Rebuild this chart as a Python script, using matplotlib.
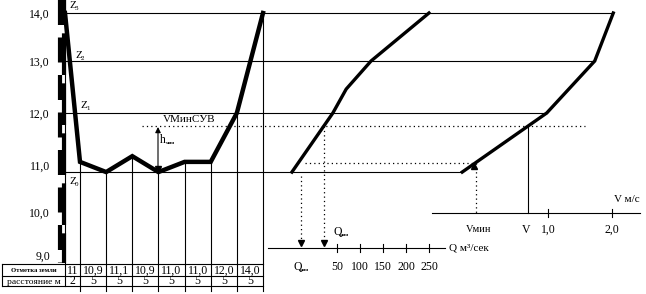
import numpy as np
import matplotlib.pyplot as plt

plt.rcParams['font.family'] = ['Liberation Serif', 'DejaVu Serif']

# elevation scale (m)
levels = [9.0, 10.0, 11.0, 12.0, 13.0, 14.0]
level_labels = ["9,0", "10,0", "11,0", "12,0", "13,0", "14,0"]

# cross-section: distance from the staff (m) and ground elevation as drawn
dist = [0, 2, 7, 12, 17, 22, 27, 32, 37]
ground = [14.0, 11.06, 10.85, 11.17, 10.85, 11.06, 11.06, 12.0, 14.0]
ground_labels = ["11", "10,9", "11,1", "10,9", "11,0", "11,0", "12,0", "14,0"]
spacing_labels = ["2", "5", "5", "5", "5", "5", "5", "5"]

water_levels = [14.0, 13.0, 12.0]
z_low = 10.85    # lowest level
z_sov = 11.75    # VМинСУВ
z_vmin = 11.04

# discharge curve Q(H)
q_elev = [10.85, 12.0, 12.46, 13.0, 14.0]
q_vals = [-48, 41, 70, 124, 250]
q_ticks = [50, 100, 150, 200, 250]

# velocity curve V(H)
v_elev = [10.85, 12.0, 13.0, 14.0]
v_vals = [-0.34, 0.98, 1.73, 2.02]
v_ticks = [1.0, 2.0]
v_tick_labels = ["1,0", "2,0"]


# --- layout of the sketch (pixels) ---
def ey(z):
    return np.interp(z, levels, [255, 212, 165, 113, 61, 13])

def dx(d):
    return np.interp(d, [0, 2, 37], [65, 80, 263])

def qx(q):
    return 314 + 0.46 * np.asarray(q, dtype=float)

def vx(v):
    return 484 + 64 * np.asarray(v, dtype=float)

QY, VY = 248, 213
K = 'black'
thin = 0.8

fig = plt.figure(figsize=(6.46, 2.94), dpi=100)
ax = fig.add_axes([0, 0, 1, 1])
ax.set_xlim(0, 646)
ax.set_ylim(294, 0)
ax.axis('off')

qcx = qx(q_vals)
vcx = vx(v_vals)

# horizontal level lines
for z in water_levels:
    ax.plot([65, np.interp(z, v_elev, vcx)], [ey(z)] * 2, color=K, lw=thin)
ax.plot([65, np.interp(z_low, v_elev, vcx)], [ey(z_low)] * 2, color=K, lw=thin)

# dotted levels
ax.plot([142, 585], [ey(z_sov)] * 2, color=K, lw=0.9, ls=(0, (1, 2.5)))
x_q_vmin = np.interp(z_vmin, q_elev, qcx)
x_v_vmin = np.interp(z_vmin, v_elev, vcx)
ax.plot([x_q_vmin + 6, x_v_vmin], [ey(z_vmin)] * 2, color=K, lw=0.9, ls=(0, (1, 2.5)))

# staff (leveling rod)
ax.plot([60, 60], [0, 263], color=K, lw=3, ls=(0, (6, 3)), solid_capstyle='butt')
ax.plot([63.5, 63.5], [0, 263], color=K, lw=3, ls=(4, (10, 2)), solid_capstyle='butt')
ax.plot([65, 65], [0, 286], color=K, lw=thin)

# cross-section profile
ax.plot(dx(dist), ey(ground), color=K, lw=3.2, solid_joinstyle='miter')
for d, g in zip(dist[1:], ground[1:]):
    ax.plot([dx(d)] * 2, [ey(g), 291], color=K, lw=thin)

# h arrow
ax.annotate('', xy=(158, ey(z_sov) + 1), xytext=(158, ey(z_low)),
            arrowprops=dict(arrowstyle='-|>', lw=thin, color=K, mutation_scale=8,
                            shrinkA=0, shrinkB=0))
ax.plot(158, ey(z_low) - 3, marker='v', color=K, ms=5)
ax.text(160, 140, "h", fontsize=8.5, va='center')
ax.text(166, 143, "мин", fontsize=3.5, fontweight='bold', va='center')
ax.text(163, ey(z_sov) - 2, "VМинСУВ", fontsize=8, va='bottom')

# Z labels
for x, y, s in [(69, 6, "3"), (75, 55, "2"), (80, 106, "1"), (69, 182, "0")]:
    ax.text(x, y, "Z", fontsize=8, va='center')
    ax.text(x + 6, y + 3, s, fontsize=5, va='center')

# elevation labels
for z, lab in zip(levels, level_labels):
    ax.text(50, ey(z) + 2, lab, fontsize=8.5, ha='right', va='center')

# table
for y in [264, 276, 286]:
    ax.plot([2, 263], [y, y], color=K, lw=thin)
ax.plot([2, 2], [264, 286], color=K, lw=thin)
ax.text(33.5, 270, "Отметка земли", fontsize=4.8, fontweight='bold', ha='center', va='center')
ax.text(33.5, 281.5, "расстояние м", fontsize=6.8, ha='center', va='center')
edges = dx(dist)
for i in range(len(ground_labels)):
    xc = (edges[i] + edges[i + 1]) / 2
    ax.text(xc, 270.5, ground_labels[i], fontsize=8.5, ha='center', va='center')
    ax.text(xc, 281.5, spacing_labels[i], fontsize=8.5, ha='center', va='center')

# Q curve and axis
ax.plot(qcx, ey(q_elev), color=K, lw=2.4)
ax.plot([268, 445], [QY, QY], color=K, lw=thin)
for q in q_ticks:
    ax.plot([qx(q)] * 2, [QY - 4, QY + 4], color=K, lw=thin)
    ax.text(qx(q), 267, str(q), fontsize=8.5, ha='center', va='center')
ax.text(449, QY, "Q м³/сек", fontsize=8, va='center')

x_q_sov = np.interp(z_sov, q_elev, qcx)
ax.plot([x_q_sov] * 2, [ey(z_sov), QY - 6], color=K, lw=0.9, ls=(0, (1, 2.5)))
ax.plot(x_q_sov, QY - 5, marker='v', color=K, ms=5)
ax.plot([x_q_vmin + 2] * 2, [ey(z_low) + 4, QY - 6], color=K, lw=0.9, ls=(0, (1, 2.5)))
ax.plot(x_q_vmin + 2, QY - 5, marker='v', color=K, ms=5)
ax.text(333, 232, "Q", fontsize=8.5, va='center')
ax.text(340, 235, "мин", fontsize=3.5, fontweight='bold', va='center')
ax.text(293, 267, "Q", fontsize=8.5, va='center')
ax.text(300, 270, "мин", fontsize=3.5, fontweight='bold', va='center')

# V curve and axis
ax.plot(vcx, ey(v_elev), color=K, lw=2.4)
ax.plot([432, 640], [VY, VY], color=K, lw=thin)
for v, lab in zip(v_ticks, v_tick_labels):
    ax.plot([vx(v)] * 2, [VY - 4, VY + 4], color=K, lw=thin)
    ax.text(vx(v), 230, lab, fontsize=8.5, ha='center', va='center')
ax.text(614, 200, "V м/с", fontsize=8, va='center')

ax.plot([x_v_vmin] * 2, [ey(z_vmin), VY], color=K, lw=0.9, ls=(0, (1, 2.5)))
ax.plot(x_v_vmin - 2, ey(z_vmin) + 3, marker='^', color=K, ms=4)
ax.text(x_v_vmin + 2, 230, "Vмин", fontsize=7.5, ha='center', va='center')

x_v_sov = np.interp(z_sov, v_elev, vcx)
ax.plot([x_v_sov] * 2, [ey(z_sov), VY], color=K, lw=thin)
ax.text(x_v_sov - 2, 230, "V", fontsize=8.5, ha='center', va='center')

fig.savefig("out.png", dpi=100)
